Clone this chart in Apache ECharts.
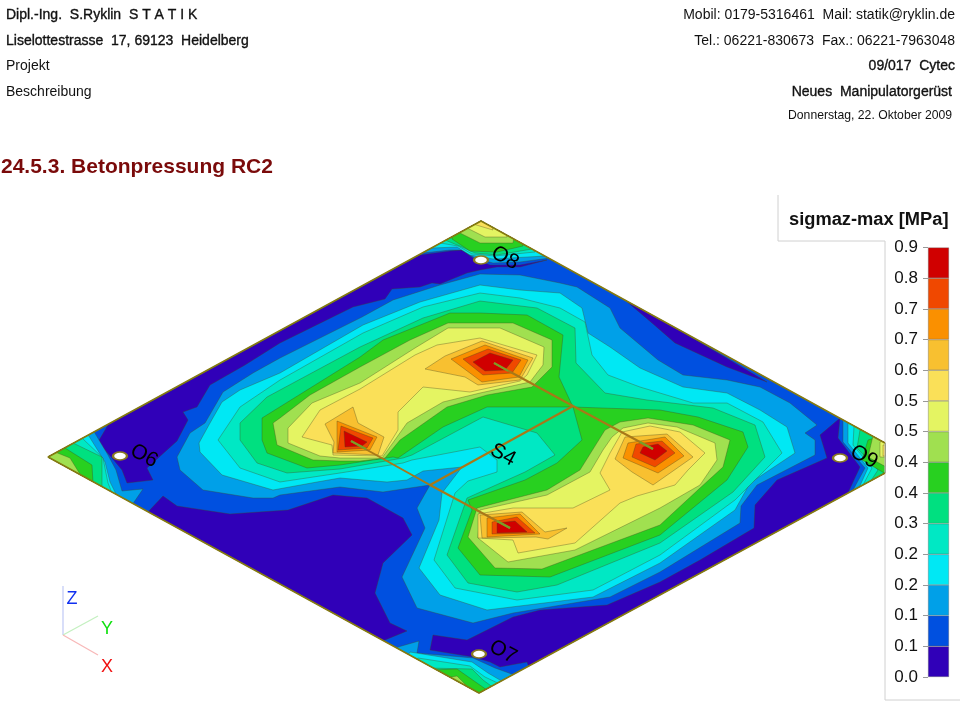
<!DOCTYPE html>
<html><head><meta charset="utf-8">
<style>html,body{margin:0;padding:0;background:#fff}#c{width:960px;height:720px}</style>
<script src="https://cdn.jsdelivr.net/npm/echarts@6/dist/echarts.min.js"></script>
</head><body><div id="c"></div>
<script>
const headerLeft = ["Dipl.-Ing.  S.Ryklin  S T A T I K","Liselottestrasse  17, 69123  Heidelberg","Projekt","Beschreibung"];
const headerRight = ["Mobil: 0179-5316461  Mail: statik@ryklin.de","Tel.: 06221-830673  Fax.: 06221-7963048","09/017  Cytec","Neues  Manipulatorgerüst","Donnerstag, 22. Oktober 2009"];
const pageTitle = "24.5.3. Betonpressung RC2";
const legendTitle = "sigmaz-max [MPa]";
const tickLabels = ["0.0","0.1","0.1","0.2","0.2","0.3","0.4","0.4","0.5","0.5","0.6","0.7","0.7","0.8","0.9"];
const bandColors = ["#3000b8","#0050e0","#00a0e8","#00e8f4","#00e8c4","#00e080","#28d020","#a0e050","#e4f462","#fae058","#f8c030","#fa9000","#f04800","#d00000"];
const bandSteps = [1,1,1,1,1,1,1,1,1,1,1,1,1,1];

// plate outline in drawing coordinates
const plate = [[48,457],[481,221],[885,443],[885,473],[479,693]];

const level0 = [
 [[108,425],[420,255],[450,251],[462,250],[473,258],[490,265],[520,265],[547,260],[520,267],[497,267],[480,270],[467,273],[440,284],[432,283],[420,287],[392,289],[385,299],[353,307],[280,343],[245,365],[210,385],[197,407],[183,412],[188,420],[177,441],[147,468],[153,480],[127,483],[122,470],[112,458],[98,442]],
 [[148,512],[163,496],[177,506],[230,514],[288,510],[333,495],[367,498],[403,518],[412,535],[383,563],[375,593],[390,623],[407,631],[380,642]],
 [[433,635],[467,640],[487,630],[513,617],[540,610],[580,607],[607,605],[660,582],[700,560],[754,528],[755,505],[777,480],[827,458],[820,435],[840,418],[838,438],[860,467],[847,495],[530,670],[527,662],[500,667],[490,662],[473,657],[430,650]],
 [[618,294],[652,323],[675,343],[727,367],[767,382]]
];
const level2 = [
 [[177,457],[190,433],[205,423],[223,392],[253,373],[280,358],[362,317],[393,300],[440,285],[480,274],[520,275],[560,283],[577,287],[610,308],[620,328],[658,360],[683,375],[727,380],[760,387],[790,403],[817,425],[805,433],[815,440],[815,455],[757,485],[741,506],[740,523],[660,572],[610,597],[513,613],[473,623],[417,608],[402,577],[425,528],[417,508],[430,485],[383,492],[340,487],[280,495],[273,498],[253,498],[203,490],[180,470]],
 [[423,253],[450,250],[462,250],[475,258],[493,263],[520,262],[550,258],[545,235],[481,215],[423,245]],
 [[93,430],[108,455],[116,470],[122,491],[143,489],[132,505],[40,470],[40,440]],
 [[398,647],[419,641],[417,653],[473,658],[495,668],[520,677],[480,700],[395,650]],
 [[843,420],[843,442],[865,468],[853,490],[900,470],[900,430]]
];
const level3 = [
 [[199,443],[210,423],[222,402],[240,390],[280,373],[363,325],[420,302],[480,285],[520,290],[560,293],[582,308],[588,333],[610,347],[640,368],[683,387],[727,393],[760,410],[787,427],[795,453],[750,483],[735,510],[660,563],[593,597],[487,610],[440,595],[419,568],[439,520],[442,493],[462,467],[423,471],[407,480],[387,482],[340,478],[317,482],[273,490],[222,475],[200,452]],
 [[432,248],[457,247],[470,255],[493,259],[545,256],[545,235],[481,215],[432,240]],
 [[87,433],[105,462],[110,482],[118,498],[40,470],[40,440]],
 [[410,652],[472,662],[488,673],[505,683],[480,705],[405,660]],
 [[848,423],[848,443],[868,468],[858,490],[900,470],[900,430]]
];
const level4 = [
 [[218,440],[240,407],[280,380],[363,333],[423,307],[480,293],[520,298],[560,308],[585,322],[592,355],[608,375],[640,387],[693,403],[727,403],[763,422],[782,453],[735,500],[660,555],[593,590],[517,600],[455,588],[434,560],[455,493],[468,481],[497,472],[497,460],[480,447],[412,460],[403,463],[340,473],[280,482],[240,468]],
 [[440,243],[458,246],[472,254],[495,256],[535,252],[530,235],[481,215],[440,235]],
 [[82,438],[103,458],[108,483],[112,493],[40,470],[40,445]],
 [[418,658],[470,666],[485,677],[502,685],[480,705],[410,665]],
 [[854,426],[853,445],[872,468],[863,485],[900,470],[900,430]]
];
const level5 = [
 [[240,423],[267,397],[360,347],[423,318],[480,301],[537,308],[575,328],[576,363],[605,393],[647,400],[713,408],[755,425],[765,457],[733,492],[660,543],[557,585],[517,592],[468,583],[447,555],[467,498],[525,472],[555,455],[537,433],[483,417],[412,455],[403,458],[340,469],[287,473],[257,463],[240,440]],
 [[445,240],[462,247],[475,253],[497,255],[532,249],[530,235],[481,215],[445,232]],
 [[73,443],[102,457],[102,480],[102,488],[40,470],[40,450]],
 [[427,668],[472,669],[483,680],[494,688],[480,705],[420,672]],
 [[860,430],[857,448],[878,470],[870,482],[900,470],[900,430]]
];
const level6 = [
 [[262,418],[307,390],[360,357],[383,340],[450,313],[480,313],[527,315],[563,335],[559,377],[573,407],[660,410],[698,417],[743,432],[748,447],[727,480],[660,535],[550,577],[480,575],[458,548],[472,510],[468,500],[525,480],[557,463],[582,440],[573,407],[487,407],[443,427],[398,458],[393,457],[340,465],[307,468],[267,453],[262,440]],
 [[452,239],[470,251],[497,252],[523,246],[520,232],[481,215],[452,230]],
 [[65,448],[92,465],[93,483],[40,470],[40,450]],
 [[433,670],[457,669],[487,690],[480,705],[428,675]],
 [[868,440],[862,460],[886,474],[900,470],[900,430]]
];
const level7 = [
 [[280,418],[310,395],[360,367],[410,340],[448,323],[513,323],[552,340],[552,367],[532,387],[487,395],[447,407],[400,440],[385,458],[360,461],[340,461],[313,460],[277,445],[273,423]],
 [[605,430],[620,422],[648,418],[693,425],[730,440],[723,467],[700,488],[660,525],[542,569],[495,568],[468,537],[477,508],[547,490],[580,470]],
 [[460,233],[480,243],[513,243],[515,230],[481,215],[460,225]],
 [[55,452],[70,458],[83,479],[40,470],[40,450]],
 [[445,678],[457,676],[475,694],[465,700],[438,682]],
 [[873,436],[868,457],[888,468],[900,450],[900,430]]
];
const level8 = [
 [[288,428],[312,403],[360,383],[415,348],[448,328],[500,328],[544,347],[543,365],[530,382],[480,393],[443,402],[407,423],[382,458],[340,458],[320,456],[288,443]],
 [[612,437],[623,428],[648,423],[677,427],[715,443],[717,460],[700,485],[660,508],[575,550],[508,562],[478,538],[480,510],[547,495],[590,472],[603,450]],
 [[467,228],[485,237],[507,237],[505,225],[481,215],[467,222]],
 [[880,442],[880,457],[900,457],[900,435]]
];
const level9 = [
 [[302,437],[320,410],[360,389],[415,355],[437,345],[480,338],[537,355],[527,375],[520,381],[470,392],[423,387],[398,412],[398,430],[382,456],[333,455],[332,445]],
 [[622,432],[650,426],[680,432],[705,453],[688,470],[675,485],[637,496],[620,503],[575,543],[518,553],[513,540],[478,538],[478,514],[513,508],[573,508],[610,490],[600,473],[610,453]],
 [[473,224],[493,230],[490,218],[478,218]],
 [[883,445],[883,456],[900,456],[900,445]]
];
const level10 = [
 [[325,424],[353,407],[358,423],[384,437],[378,455],[333,453],[334,442]],
 [[425,369],[465,377],[478,385],[520,380],[533,358],[482,341],[445,356]],
 [[615,459],[625,437],[667,434],[693,457],[653,485],[632,472]],
 [[480,515],[522,512],[545,532],[567,528],[548,539],[536,537],[482,538]]
];
const level11 = [
 [[337,421],[377,437],[370,450],[337,452]],
 [[451,359],[485,345],[528,360],[519,377],[482,382]],
 [[623,458],[628,443],[665,437],[684,456],[658,473]],
 [[487,518],[520,514],[540,534],[487,537]]
];
const level12 = [
 [[341,426],[373,438],[367,448],[338,450]],
 [[463,359],[488,349],[521,360],[512,373],[483,375]],
 [[632,457],[636,444],[662,441],[675,453],[655,467]],
 [[492,522],[517,517],[535,533],[492,534]]
];
const level13 = [
 [[344,431],[367,442],[362,446],[345,447]],
 [[473,362],[490,353],[513,360],[505,370],[485,371]],
 [[640,453],[643,447],[658,444],[667,451],[655,460]],
 [[497,523],[515,521],[527,532],[497,533]]
];
const levels = [[0,level0],[2,level2],[3,level3],[4,level4],[5,level5],[6,level6],[7,level7],[8,level8],[9,level9],[10,level10],[11,level11],[12,level12],[13,level13]];

const beams = [
 [[494,363],[573,406],[653,449]],
 [[351,441],[430,485],[510,528]],
 [[430,485],[573,406]]
];
const beamTips = [
 [[494,363],[508,371]],
 [[351,441],[366,449]],
 [[640,442],[653,449]],
 [[497,521],[510,528]]
];
const openings = [[120,456],[479,654],[481,260],[840,458]];
const supportNames = [["O6",144,456],["O7",503,652],["O8",505,258],["O9",864,457],["S4",503,455]];
const frame = [[[778,195],[778,241],[885,241],[885,700],[960,700]]];
const triad = [
 {to:[[63,635],[63,586]],c:"#c4ccf6",t:"Z",at:[72,599],tc:"#1030f0"},
 {to:[[63,635],[98,616]],c:"#c4f0c0",t:"Y",at:[107,629],tc:"#10e010"},
 {to:[[63,635],[98,655]],c:"#f8b8b8",t:"X",at:[107,667],tc:"#f01010"}
];

// clip a ring against the convex plate outline
function clipRing(ring){
 let out = ring;
 for(let i=0;i<plate.length;i++){
  const a=plate[i], b=plate[(i+1)%plate.length];
  const side=p=>(b[0]-a[0])*(p[1]-a[1])-(b[1]-a[1])*(p[0]-a[0]);
  const res=[];
  for(let j=0;j<out.length;j++){
   const p=out[j], q=out[(j+1)%out.length];
   const sp=side(p), sq=side(q);
   if(sp>=0) res.push(p);
   if((sp>=0)!==(sq>=0)){
    const t=sp/(sp-sq);
    res.push([p[0]+t*(q[0]-p[0]),p[1]+t*(q[1]-p[1])]);
   }
  }
  out=res;
  if(!out.length) break;
 }
 return out;
}
const shapes=[{ring:plate,color:bandColors[1]}];
levels.forEach(([lv,rings])=>rings.forEach(r=>{
 const c=clipRing(r);
 if(c.length>2) shapes.push({ring:c,color:bandColors[lv]});
}));

const L="'Liberation Sans',Arial,sans-serif";
const lineSeries=(pts,color,width,z)=>({type:"line",xAxisIndex:0,yAxisIndex:0,data:pts,showSymbol:false,silent:true,animation:false,z:z,clip:false,lineStyle:{color:color,width:width},itemStyle:{color:color}});
const series=[
 {type:"custom",xAxisIndex:0,yAxisIndex:0,z:2,silent:true,animation:false,clip:false,
  data:shapes.map((s,i)=>[s.ring[0][0],s.ring[0][1],i]),
  renderItem:(p,api)=>{
   const s=shapes[api.value(2)];
   return {type:"polygon",shape:{points:s.ring.map(q=>api.coord(q))},
    style:{fill:s.color,stroke:"rgba(70,70,30,0.5)",lineWidth:0.7}};
  }},
 lineSeries([plate[4],plate[0],plate[1],plate[2]],"#857a10",1.6,6),
 lineSeries([plate[3],plate[4]],"#857a10",1.6,6),
 ...beams.map(b=>lineSeries(b,"#a87818",2,7)),
 ...beamTips.map(b=>lineSeries(b,"#78a028",2,8)),
 ...frame.map(f=>lineSeries(f,"#d0d0d0",1,5)),
 ...triad.map(t=>lineSeries(t.to,t.c,1.3,5)),
 {type:"scatter",xAxisIndex:0,yAxisIndex:0,z:9,silent:true,animation:false,clip:false,data:openings,symbol:"circle",symbolSize:[14,8],
  itemStyle:{color:"#fff",borderColor:"#8a7a20",borderWidth:1.8,opacity:1}},
 {type:"scatter",xAxisIndex:0,yAxisIndex:0,z:10,silent:true,animation:false,clip:false,symbolSize:0,itemStyle:{opacity:1},
  data:supportNames.map(n=>({value:[n[1],n[2]],label:{show:true,opacity:1,formatter:n[0],position:"inside",rotate:-28,fontFamily:L,fontSize:21,color:"#000",textBorderColor:"transparent"}}))},
 {type:"scatter",xAxisIndex:0,yAxisIndex:0,z:10,silent:true,animation:false,clip:false,symbolSize:0,itemStyle:{opacity:1},
  data:triad.map(t=>({value:t.at,label:{show:true,opacity:1,formatter:t.t,position:"inside",fontFamily:L,fontSize:18,color:t.tc,textBorderColor:"transparent"}}))},
 ...bandSteps.map((v,i)=>({type:"bar",xAxisIndex:1,yAxisIndex:1,stack:"legend",barWidth:"100%",data:[v],silent:true,animation:false,z:4,
   itemStyle:{color:bandColors[i],borderColor:"rgba(90,90,90,0.6)",borderWidth:0.6}}))
];

const graphic=[];
const txt=(text,x,y,opts)=>graphic.push({type:"text",x:x,y:y,silent:true,style:Object.assign({text:text,font:"14px "+L,fill:"#111",verticalAlign:"middle",align:"left"},opts||{})});
const semi={stroke:"#111",lineWidth:0.35};
txt(headerLeft[0],6,15,semi);
txt(headerLeft[1],6,41,semi);
txt(headerLeft[2],6,66);
txt(headerLeft[3],6,92);
txt(headerRight[0],955,15,{align:"right"});
txt(headerRight[1],955,41,{align:"right"});
txt(headerRight[2],955,66,Object.assign({align:"right"},semi));
txt(headerRight[3],952,92,Object.assign({align:"right"},semi));
txt(headerRight[4],952,116,{align:"right",font:"12.2px "+L});
txt(pageTitle,1,167,{font:"bold 21px "+L,fill:"#7a0a0a"});
txt(legendTitle,789,220,{font:"bold 18.3px "+L,fill:"#111"});

const chart=echarts.init(document.getElementById("c"),null,{renderer:"canvas"});
chart.setOption({
 backgroundColor:"#fff",animation:false,
 grid:[{left:0,top:0,width:960,height:720},{left:928,top:247.5,width:21,height:429.5}],
 xAxis:[{type:"value",min:0,max:960,show:false,gridIndex:0},{type:"category",data:[""],show:false,gridIndex:1}],
 yAxis:[{type:"value",min:0,max:720,inverse:true,show:false,gridIndex:0},
  {type:"value",min:0,max:14,interval:1,gridIndex:1,splitLine:{show:false},
   axisLine:{show:false},axisTick:{show:true,length:5,lineStyle:{color:"#999"}},
   axisLabel:{margin:10,fontFamily:L,fontSize:17,color:"#111",showMinLabel:true,showMaxLabel:true,formatter:(v)=>tickLabels[Math.round(v)]}}],
 series:series,graphic:graphic
});
</script></body></html>
